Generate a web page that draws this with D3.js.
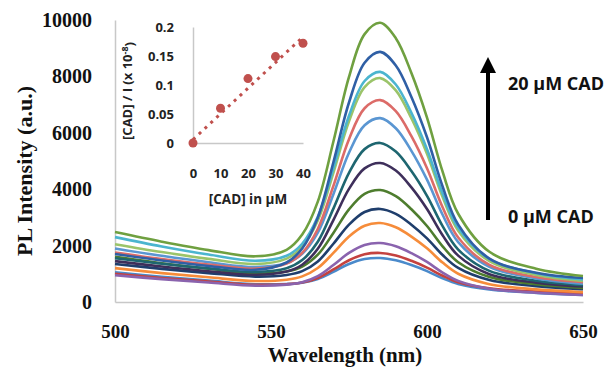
<!DOCTYPE html>
<html>
<head>
<meta charset="utf-8">
<script src="https://cdn.jsdelivr.net/npm/d3@7"></script>
<style>
  body { margin: 0; background: #fff; }
  svg { display: block; }
</style>
</head>
<body>
<div id="chart"></div>
<script>
// wavelength grid (nm) shared by all spectra
const wavelengths = [500, 515, 530, 545, 555, 560, 565, 570, 575, 580, 585, 590, 595, 600, 605, 610, 620, 635, 650];

// PL spectra, lowest (0 µM CAD) first, highest (20 µM CAD) last
const specBlue      = [1050, 892, 757, 630, 640, 684, 819, 1071, 1346, 1523, 1560, 1477, 1309, 1096, 841, 639, 442, 325, 250];
const specRed       = [1000, 853, 727, 610, 630, 690, 853, 1153, 1479, 1691, 1740, 1651, 1460, 1220, 929, 701, 485, 367, 300];
const specViolet    = [950, 810, 690, 580, 615, 701, 916, 1313, 1742, 2023, 2090, 1976, 1731, 1420, 1043, 748, 472, 328, 250];
const specOrange    = [1200, 1025, 875, 745, 790, 909, 1204, 1741, 2324, 2706, 2800, 2649, 2321, 1903, 1397, 1001, 633, 447, 350];
const specNavy      = [1350, 1175, 1025, 900, 960, 1095, 1438, 2065, 2744, 3191, 3300, 3125, 2742, 2256, 1666, 1206, 777, 562, 450];
const specOlive     = [1600, 1372, 1177, 1015, 1080, 1254, 1677, 2449, 3284, 3833, 3970, 3756, 3290, 2695, 1974, 1411, 889, 632, 500];
const specPurple    = [1450, 1257, 1092, 965, 1080, 1322, 1886, 2906, 4010, 4739, 4930, 4663, 4065, 3299, 2369, 1645, 987, 686, 550];
const specTeal      = [1550, 1357, 1192, 1068, 1200, 1486, 2135, 3310, 4581, 5421, 5640, 5333, 4644, 3764, 2692, 1859, 1102, 756, 600];
const specSteel     = [1900, 1637, 1412, 1238, 1380, 1710, 2461, 3823, 5295, 6268, 6520, 6162, 5361, 4338, 3093, 2125, 1244, 836, 650];
const specSalmon    = [1750, 1522, 1327, 1183, 1360, 1742, 2590, 4120, 5774, 6870, 7160, 6768, 5880, 4744, 3360, 2286, 1316, 884, 700];
const specLightGrn  = [2050, 1770, 1530, 1348, 1540, 1955, 2891, 4583, 6411, 7622, 7940, 7503, 6517, 5256, 3721, 2529, 1449, 962, 750];
const specCyan      = [2300, 1968, 1682, 1461, 1640, 2065, 3019, 4741, 6605, 7837, 8160, 7712, 6705, 5416, 3849, 2630, 1525, 1023, 800];
const specDarkBlue  = [1700, 1472, 1278, 1141, 1400, 1898, 2993, 4955, 7075, 8486, 8870, 8387, 7272, 5842, 4096, 2745, 1541, 1038, 850];
const specGreen     = [2480, 2140, 1840, 1620, 1850, 2390, 3560, 5690, 7980, 9500, 9900, 9355, 8120, 6540, 4620, 3130, 1780, 1180, 920];

const spectra = [specBlue, specRed, specViolet, specOrange, specNavy, specOlive, specPurple,
                 specTeal, specSteel, specSalmon, specLightGrn, specCyan, specDarkBlue, specGreen];
const spectraColors = ["#4A8ACB", "#C4423F", "#8A63AE", "#F68C3A", "#1F3E6C", "#4E7D2E", "#3E2F5B",
                       "#1E6670", "#5A96D2", "#DC6B68", "#9BC46A", "#4BB5CF", "#2F5FA5", "#6FA040"];

const xTicks = [500, 550, 600, 650];
const yTicks = [0, 2000, 4000, 6000, 8000, 10000];

// inset: Stern–Volmer style plot
const insetConc  = [0, 10, 20, 30, 40];
const insetRatio = [0, 0.06, 0.111, 0.149, 0.172];
const trendConc  = [0, 40];
const trendRatio = [0.006, 0.183];
const insetXTicks = [0, 10, 20, 30, 40];
const insetYTicks = [0, 0.05, 0.1, 0.15, 0.2];

const W = 615, H = 369;
const svg = d3.select("#chart").append("svg").attr("width", W).attr("height", H);

const serif = "'Liberation Serif', 'Times New Roman', serif";
const sans = "'Open Sans', 'Liberation Sans', sans-serif";

const x = d3.scaleLinear().domain([500, 650]).range([115, 583]);
const y = d3.scaleLinear().domain([0, 10000]).range([302, 20]);

/* Axes */
const yAxis = svg.append("g").attr("transform", "translate(115,0)")
  .call(d3.axisLeft(y).tickValues(yTicks).tickFormat(d3.format("d")).tickSize(0).tickPadding(23));
const xAxis = svg.append("g").attr("transform", "translate(0,302)")
  .call(d3.axisBottom(x).tickValues(xTicks).tickFormat(d3.format("d")).tickSize(0).tickPadding(23));
[yAxis, xAxis].forEach(a => {
  a.select(".domain").attr("stroke", "#c8c8c8").attr("stroke-width", 1.5);
  a.selectAll("text").attr("font-family", serif).attr("font-weight", "bold")
    .attr("font-size", "20px").attr("fill", "#111");
});
xAxis.selectAll("text").attr("font-size", "19px");

svg.append("text")
  .attr("transform", "translate(32,171) rotate(-90)")
  .attr("text-anchor", "middle").attr("font-family", serif).attr("font-weight", "bold")
  .attr("font-size", "22px").attr("fill", "#111")
  .text("PL Intensity (a.u.)");

svg.append("text")
  .attr("x", 345).attr("y", 362)
  .attr("text-anchor", "middle").attr("font-family", serif).attr("font-weight", "bold")
  .attr("font-size", "21px").attr("fill", "#111")
  .text("Wavelength (nm)");

/* Spectra */
const line = d3.line()
  .x((d, i) => x(wavelengths[i]))
  .y(d => y(d))
  .curve(d3.curveCatmullRom.alpha(0.5));

svg.append("g").selectAll("path")
  .data(spectra)
  .join("path")
  .attr("d", line)
  .attr("fill", "none")
  .attr("stroke", (d, i) => spectraColors[i])
  .attr("stroke-width", 2.6)
  .attr("stroke-linejoin", "round");

/* Arrow + concentration labels */
svg.append("line").attr("x1", 488).attr("x2", 488).attr("y1", 220).attr("y2", 70)
  .attr("stroke", "#000").attr("stroke-width", 4);
svg.append("path").attr("d", "M480,73 L496,73 L488,57 Z").attr("fill", "#000");

svg.append("text").attr("x", 508).attr("y", 90)
  .attr("font-family", sans).attr("font-weight", "bold").attr("font-size", "18px").attr("fill", "#111")
  .text("20 \u03BCM CAD");
svg.append("text").attr("x", 508).attr("y", 223)
  .attr("font-family", sans).attr("font-weight", "bold").attr("font-size", "18px").attr("fill", "#111")
  .text("0 \u03BCM CAD");

/* Inset */
const ix = d3.scaleLinear().domain([0, 40]).range([193, 303]);
const iy = d3.scaleLinear().domain([0, 0.2]).range([143, 27]);

const iyAxis = svg.append("g").attr("transform", "translate(193,0)")
  .call(d3.axisLeft(iy).tickValues(insetYTicks).tickFormat(d => d === 0 ? "0" : String(d)).tickSize(0).tickPadding(19));
const ixAxis = svg.append("g").attr("transform", "translate(0,143)")
  .call(d3.axisBottom(ix).tickValues(insetXTicks).tickSize(0).tickPadding(26));
[iyAxis, ixAxis].forEach(a => {
  a.select(".domain").attr("stroke", "#c8c8c8").attr("stroke-width", 1.5);
  a.selectAll("text").attr("font-family", sans).attr("font-weight", "bold")
    .attr("font-size", "13px").attr("fill", "#222");
});

svg.append("text")
  .attr("x", 248).attr("y", 204)
  .attr("text-anchor", "middle").attr("font-family", sans).attr("font-weight", "bold")
  .attr("font-size", "13.5px").attr("fill", "#222")
  .text("[CAD] in \u03BCM");

const iyTitle = svg.append("text")
  .attr("transform", "translate(132,91) rotate(-90)")
  .attr("text-anchor", "middle").attr("font-family", sans).attr("font-weight", "bold")
  .attr("font-size", "13px").attr("fill", "#222");
iyTitle.append("tspan").text("[CAD] / I (x 10");
iyTitle.append("tspan").attr("dy", "-0.45em").attr("font-size", "9px").text("-8");
iyTitle.append("tspan").attr("dy", "0.45em").text(")");

const trend = d3.line().x((d, i) => ix(trendConc[i])).y(d => iy(d));
svg.append("path").attr("d", trend(trendRatio))
  .attr("fill", "none").attr("stroke", "#C0504D").attr("stroke-width", 3)
  .attr("stroke-dasharray", "3,5");

svg.append("g").selectAll("circle")
  .data(insetRatio)
  .join("circle")
  .attr("cx", (d, i) => ix(insetConc[i]))
  .attr("cy", d => iy(d))
  .attr("r", 4.5)
  .attr("fill", "#C0504D");
</script>
</body>
</html>
